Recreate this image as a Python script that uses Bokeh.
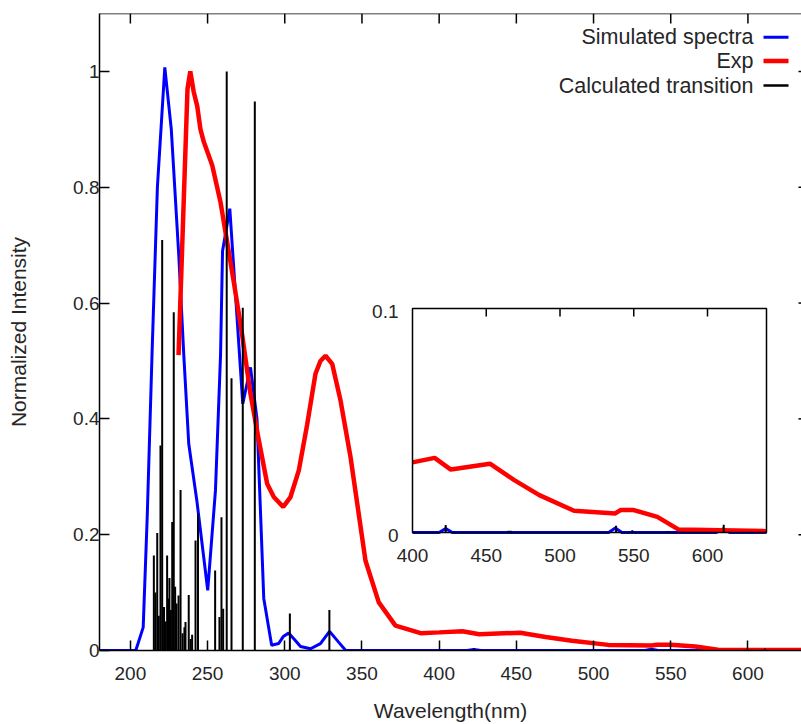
import numpy as np
from bokeh.plotting import figure
from bokeh.models import Range1d, FixedTicker, PrintfTickFormatter, Span
from bokeh.core.properties import value
from bokeh.embed import file_html
from bokeh.resources import INLINE

# ---------------- data ----------------
sim_nm = [180.0, 203.5, 208.3, 210.9, 214.1, 217.5, 222.3, 226.5, 231.4, 234.6,
          237.8, 243.0, 250.1, 255.1, 258.4, 259.7, 264.4, 272.8, 277.8, 282.0,
          286.4, 291.5, 296.0, 299.0, 302.5, 306.0, 310.2, 316.7, 323.1, 329.0,
          335.0, 339.5, 400.0, 418.0, 422.5, 427.0, 533.0, 537.5, 542.0, 606.0,
          610.5, 615.0, 640.0]
sim_int = [0.0, 0.0, 0.04, 0.23, 0.518, 0.80, 1.007, 0.90, 0.68, 0.51,
           0.357, 0.26, 0.104, 0.276, 0.51, 0.69, 0.763, 0.426, 0.489, 0.40,
           0.09, 0.009, 0.012, 0.024, 0.030, 0.020, 0.007, 0.003, 0.012, 0.033,
           0.014, 0.0, 0.0, 0.0, 0.0018, 0.0, 0.0, 0.002, 0.0, 0.0,
           0.0016, 0.0, 0.0]

exp_nm = [231.2, 237.0, 238.8, 241.0, 243.3, 245.4, 247.6, 253.0, 258.4, 262.7,
          267.0, 272.4, 277.8, 283.2, 288.6, 292.9, 299.0, 303.7, 309.1, 314.5,
          319.9, 323.1, 326.4, 330.7, 336.1, 342.6, 347.9, 352.3, 360.9, 371.7,
          388.0, 400.0, 415.0, 426.0, 452.5, 469.0, 486.0, 509.5, 537.5, 541.0,
          550.0, 566.0, 580.5, 640.0]
exp_int = [0.51, 0.97, 1.0, 0.965, 0.94, 0.90, 0.878, 0.838, 0.774, 0.705,
           0.636, 0.545, 0.443, 0.363, 0.288, 0.265, 0.248, 0.265, 0.311, 0.39,
           0.478, 0.50, 0.509, 0.495, 0.432, 0.334, 0.236, 0.155, 0.083, 0.043,
           0.030, 0.0313, 0.0333, 0.0281, 0.0307, 0.0234, 0.0167, 0.0097, 0.0085, 0.010,
           0.010, 0.007, 0.0013, 0.0006]

trans_nm = [215.2, 216.2, 217.4, 218.4, 219.5, 220.6, 221.8, 222.8, 223.8, 224.6,
            225.3, 226.2, 227.1, 228.1, 229.0, 229.9, 231.2, 232.5, 233.8, 235.0,
            235.7, 237.8, 239.0, 240.0, 242.2, 243.8, 254.9, 257.7, 259.0, 260.1,
            262.4, 265.5, 272.8, 280.6, 303.3, 328.9, 422.5, 465.0, 466.5, 538.0,
            549.0, 573.0, 611.0]
trans_f = [0.164, 0.10, 0.203, 0.06, 0.354, 0.709, 0.075, 0.05, 0.164, 0.09,
           0.125, 0.07, 0.222, 0.584, 0.11, 0.081, 0.095, 0.277, 0.03, 0.04,
           0.049, 0.096, 0.02, 0.027, 0.19, 0.236, 0.138, 0.058, 0.23, 0.072,
           1.0, 0.47, 0.592, 0.948, 0.064, 0.070, 0.0033, 0.0008, 0.0008, 0.003,
           0.001, 0.0007, 0.0035]

x_ticks = [200, 250, 300, 350, 400, 450, 500, 550, 600]
y_ticks = [0, 0.2, 0.4, 0.6, 0.8, 1]
y_tick_labels = ["0", "0.2", "0.4", "0.6", "0.8", "1"]

inset_x_ticks = [400, 450, 500, 550, 600]
inset_x_tick_labels = ["400", "450", "500", "550", "600"]
inset_y_ticks = [0, 0.1]
inset_y_tick_labels = ["0", "0.1"]

legend_labels = ["Simulated spectra", "Exp", "Calculated transition"]

# ---------------- styles / layout ----------------
FONT = "Liberation Sans"
TXT = "#262626"
BLUE, RED, BLACK = "#0000ff", "#ff0000", "#000000"
TICK_FS = "19px"
LABEL_FS = "21px"
LEGEND_FS = "21.5px"

W, H = 801, 724
BL, BR, BT, BB = 99, 0, 13, 74
FW, FH = W - BL - BR, H - BT - BB

x_lim = (180, 634.7)
y_lim = (0, 1.1)
inset_xlim = (400, 640)
inset_ylim = (0, 0.1)
# inset box in frame pixels (from frame left / frame bottom)
IN_L, IN_R, IN_B, IN_T = 313, 667, 118, 342

p = figure(width=W, height=H, x_range=Range1d(*x_lim), y_range=Range1d(*y_lim),
           output_backend="svg", toolbar_location=None,
           min_border_left=BL, min_border_right=BR, min_border_top=BT, min_border_bottom=BB,
           x_axis_label="Wavelength(nm)", y_axis_label="Normalized Intensity")
p.outline_line_color = None
p.grid.visible = False
p.background_fill_color = "white"
p.border_fill_color = "white"

def style_axis(ax):
    ax.major_tick_in = 10
    ax.major_tick_out = 0
    ax.minor_tick_in = 0
    ax.minor_tick_out = 0
    ax.axis_line_width = 1.5
    ax.axis_line_color = BLACK
    ax.major_tick_line_width = 1.5
    ax.major_tick_line_color = BLACK
    ax.major_label_text_font = FONT
    ax.major_label_text_font_size = TICK_FS
    ax.major_label_text_color = TXT
    ax.axis_label_text_font = FONT
    ax.axis_label_text_font_size = LABEL_FS
    ax.axis_label_text_font_style = "normal"
    ax.axis_label_text_color = TXT

for ax in p.xaxis:
    style_axis(ax)
    ax.ticker = FixedTicker(ticks=x_ticks)
    ax.major_label_standoff = 16
    ax.axis_label_standoff = 16
for ax in p.yaxis:
    style_axis(ax)
    ax.ticker = FixedTicker(ticks=y_ticks)
    ax.formatter = PrintfTickFormatter(format="%g")
    ax.major_label_overrides = dict(zip(y_ticks, y_tick_labels))
    ax.major_label_standoff = 0
    ax.axis_label_standoff = 40

# frame top line and mirrored ticks (top inward, right: stubs cut by the image edge)
p.add_layout(Span(location=y_lim[1], dimension="width", line_color=BLACK, line_width=1.5))

# pixel-space helper ranges over the frame (x from left, y from top)
p.extra_x_ranges = {"fx": Range1d(0, FW)}
p.extra_y_ranges = {"fy": Range1d(FH, 0)}

p.segment(x0=x_ticks, y0=[0] * len(x_ticks), x1=x_ticks, y1=[10] * len(x_ticks),
          line_color=BLACK, line_width=1.5, y_range_name="fy")
p.segment(x0=[FW - 3] * len(y_ticks), y0=y_ticks, x1=[FW] * len(y_ticks), y1=y_ticks,
          line_color=BLACK, line_width=1.5, x_range_name="fx")

# ---------------- main curves ----------------
p.line(sim_nm, sim_int, line_color=BLUE, line_width=3)
p.line(exp_nm, exp_int, line_color=RED, line_width=4.5)
p.segment(x0=trans_nm, y0=[0] * len(trans_nm), x1=trans_nm, y1=trans_f,
          line_color=BLACK, line_width=2)

# ---------------- inset (own scales mapped onto a sub-box of the frame) ----------------
sxi = (IN_R - IN_L) / (inset_xlim[1] - inset_xlim[0])
syi = (IN_T - IN_B) / (inset_ylim[1] - inset_ylim[0])
ix0 = inset_xlim[0] - IN_L / sxi
iy0 = inset_ylim[0] - IN_B / syi
p.extra_x_ranges["ix"] = Range1d(ix0, ix0 + FW / sxi)
p.extra_y_ranges["iy"] = Range1d(iy0, iy0 + FH / syi)
IR = dict(x_range_name="ix", y_range_name="iy")

p.quad(left=[inset_xlim[0]], right=[inset_xlim[1]], bottom=[inset_ylim[0]], top=[inset_ylim[1]],
       fill_color="white", line_color=None, **IR)

sim_a = np.array(sim_nm); sim_b = np.array(sim_int)
exp_a = np.array(exp_nm); exp_b = np.array(exp_int)
tr_a = np.array(trans_nm); tr_b = np.array(trans_f)
ms = (sim_a >= inset_xlim[0]) & (sim_a <= inset_xlim[1])
me = (exp_a >= inset_xlim[0]) & (exp_a <= inset_xlim[1])
mt = (tr_a >= inset_xlim[0]) & (tr_a <= inset_xlim[1])

p.line(sim_a[ms], sim_b[ms], line_color=BLUE, line_width=3, **IR)
p.line(exp_a[me], exp_b[me], line_color=RED, line_width=4.5, **IR)
p.segment(x0=tr_a[mt], y0=np.zeros(mt.sum()), x1=tr_a[mt], y1=tr_b[mt],
          line_color=BLACK, line_width=2, **IR)

# inset border
p.quad(left=[inset_xlim[0]], right=[inset_xlim[1]], bottom=[inset_ylim[0]], top=[inset_ylim[1]],
       fill_color=None, line_color=BLACK, line_width=1.5, **IR)

# inset top ticks (inward)
tick_len = 8 / syi
tk = inset_x_ticks[1:]
p.segment(x0=tk, y0=[inset_ylim[1]] * len(tk), x1=tk, y1=[inset_ylim[1] - tick_len] * len(tk),
          line_color=BLACK, line_width=1.5, **IR)

p.text(x=inset_x_ticks, y=[inset_ylim[0]] * len(inset_x_ticks), text=inset_x_tick_labels,
       text_font=value(FONT), text_font_size=TICK_FS, text_color=TXT,
       text_align="center", text_baseline="top", y_offset=16, **IR)
p.text(x=[inset_xlim[0]] * len(inset_y_ticks), y=inset_y_ticks, text=inset_y_tick_labels,
       text_font=value(FONT), text_font_size=TICK_FS, text_color=TXT,
       text_align="right", text_baseline="middle", x_offset=-14, y_offset=3, **IR)

# ---------------- legend (glyph sample to the right of the text) ----------------
FR = dict(x_range_name="fx", y_range_name="fy")
leg_rows = [23.7, 47.6, 72.0]
leg_colors = [BLUE, RED, BLACK]
leg_widths = [3, 4.5, 2.5]
p.text(x=[FW - 48] * 3, y=leg_rows, text=legend_labels,
       text_font=value(FONT), text_font_size=LEGEND_FS, text_color=TXT,
       text_align="right", text_baseline="middle", **FR)
for yy, c, lw in zip(leg_rows, leg_colors, leg_widths):
    p.segment(x0=[FW - 38], y0=[yy], x1=[FW - 13], y1=[yy], line_color=c, line_width=lw, **FR)

open("out.html", "w").write(file_html(p, INLINE))
